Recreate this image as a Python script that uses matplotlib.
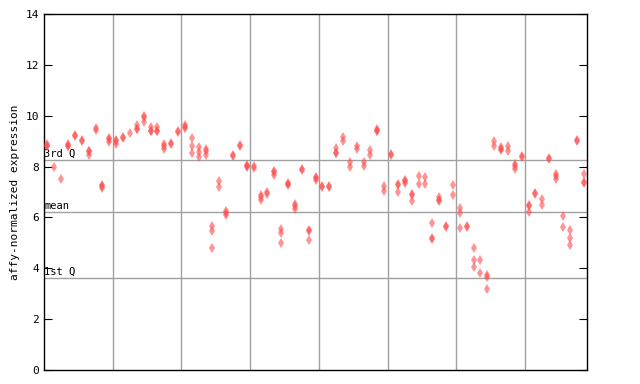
import matplotlib
matplotlib.use('Agg')
import matplotlib.pyplot as plt

# replicate values for each sample (79 samples, left to right)
expr = [
    [8.9, 8.8, 8.8], [7.97], [7.52], [8.9, 8.8, 8.8], [9.25, 9.22],
    [9.05, 9.0], [8.63, 8.6, 8.47], [9.5, 9.44], [7.26, 7.22, 7.15], [9.13, 9.1, 8.98],
    [9.05, 9.02, 8.87], [9.18, 9.12], [9.33], [9.64, 9.48, 9.46], [9.98, 9.96, 9.77],
    [9.56, 9.4, 9.38], [9.54, 9.4, 9.38], [8.9, 8.8, 8.7], [8.94, 8.9], [9.4, 9.34],
    [9.62, 9.55, 9.52], [9.13, 8.82, 8.54], [8.76, 8.56, 8.39], [8.7, 8.6, 8.46], [5.68, 5.47, 4.8],
    [7.44, 7.2], [6.26, 6.17, 6.11], [8.46, 8.4], [8.86, 8.8], [8.06, 8.02, 8.0],
    [8.02, 7.94], [6.89, 6.8, 6.68], [7.0, 6.92], [7.84, 7.8, 7.65], [5.55, 5.4, 5.01],
    [7.36, 7.31, 7.26], [6.54, 6.44, 6.34], [7.9, 7.86], [5.52, 5.47, 5.12], [7.6, 7.54, 7.48],
    [7.22, 7.18], [7.22, 7.18], [8.72, 8.54, 8.52], [9.16, 9.02], [8.17, 8.0],
    [8.8, 8.68], [8.17, 8.01], [8.66, 8.47], [9.46, 9.4, 9.38], [7.22, 7.02],
    [8.5, 8.47], [7.3, 7.27, 7.01], [7.46, 7.42, 7.34], [6.93, 6.9, 6.65], [7.64, 7.32],
    [7.58, 7.32], [5.79, 5.2, 5.15], [6.8, 6.68, 6.66], [5.65, 5.62], [7.29, 6.89],
    [6.38, 6.18, 5.59], [5.67, 5.63], [4.8, 4.33, 4.06], [4.33, 3.82], [3.72, 3.67, 3.17],
    [9.0, 8.79], [8.76, 8.7, 8.64], [8.79, 8.6], [8.11, 8.01, 7.91], [8.42, 8.38],
    [6.49, 6.45, 6.22], [6.97, 6.93], [6.72, 6.47], [8.35, 8.31], [7.7, 7.62, 7.52],
    [6.04, 5.63], [5.49, 5.2, 4.92], [9.04, 9.0], [7.71, 7.41, 7.37],
]

q3 = 8.24
mean_val = 6.22
q1 = 3.63

plt.rcParams['font.family'] = 'DejaVu Sans Mono'

fig = plt.figure(figsize=(6.4, 3.84), dpi=100)
ax = fig.add_axes([44 / 640, 14 / 384, 543 / 640, 356 / 384])

xs = []
ys = []
for i, vals in enumerate(expr):
    for v in vals:
        xs.append(i)
        ys.append(v)

# vertical grid every 10 samples
for g in range(10, len(expr), 10):
    ax.axvline(g - 0.5, color='#a0a0a0', lw=1, zorder=1)

for val, name in [(q3, '3rd Q'), (mean_val, 'mean'), (q1, '1st Q')]:
    ax.axhline(val, color='#a0a0a0', lw=1, zorder=1)
    ax.text(-0.45, val + 0.05, name, fontsize=7.5, va='bottom', ha='left', zorder=2)

ax.plot(xs, ys, 'd', color='#ff4d4d', markersize=5, markeredgewidth=0,
        alpha=0.6, zorder=3)

ax.set_xlim(-0.5, len(expr) - 0.5)
ax.set_ylim(0, 14)
ax.set_yticks(range(0, 15, 2))
ax.set_xticks([])
ax.tick_params(axis='y', direction='in', length=6, left=True, right=True,
               labelsize=8)
ax.set_ylabel('affy-normalized expression', fontsize=8)
for sp in ax.spines.values():
    sp.set_linewidth(1)

plt.savefig('out.png', dpi=100)
